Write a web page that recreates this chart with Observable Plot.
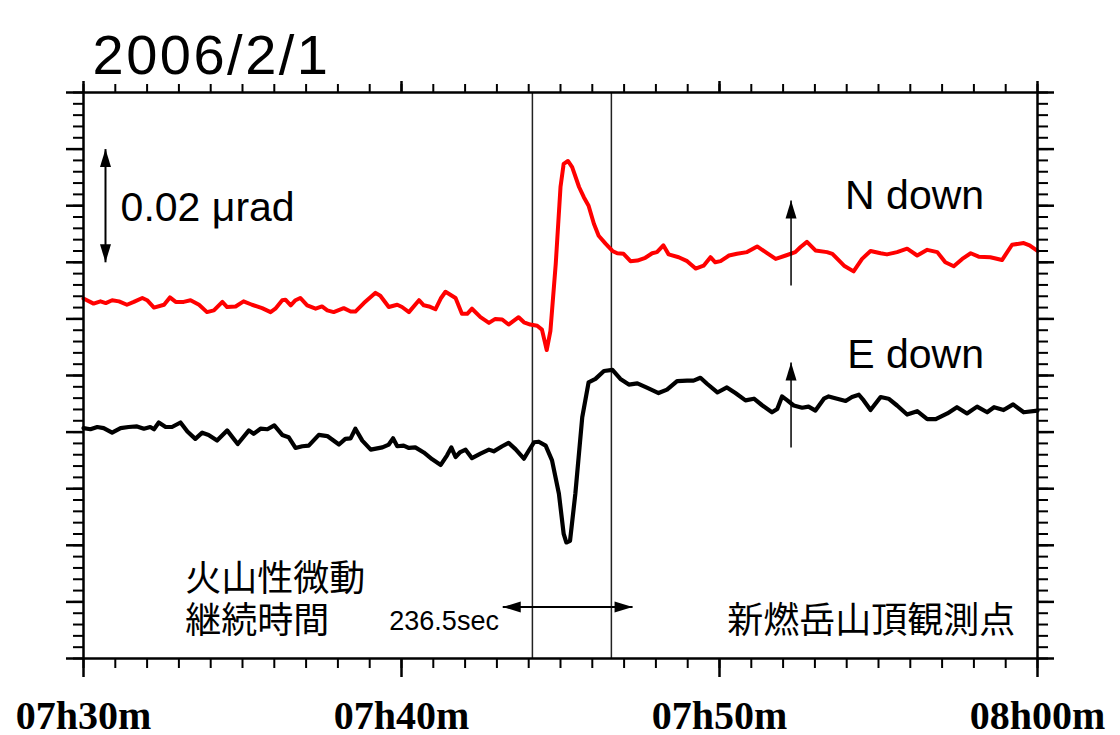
<!DOCTYPE html>
<html><head><meta charset="utf-8">
<script src="https://cdn.jsdelivr.net/npm/d3@7"></script>
<script src="https://cdn.jsdelivr.net/npm/@observablehq/plot@0.6"></script>
<style>
body{margin:0;background:#fff;}
#chart{width:1120px;height:735px;}
</style>
</head><body><div id="chart"></div>
<script>
// ---- data ----
const chartTitle = "2006/2/1";
// [seconds after 07:30:00, tilt in 0.001 µrad]
const nDown = [[0,63.6],[19,62.7],[32,63.1],[42,62.8],[54,63.3],[67,63.1],[82,62.5],[95,63.0],[111,63.7],[120,63.3],[133,62.0],[152,62.5],[163,63.8],[174,63.0],[189,63.0],[202,63.3],[218,62.5],[233,61.2],[246,61.5],[262,63.0],[271,62.1],[287,62.2],[302,63.1],[318,62.5],[337,61.9],[353,61.2],[362,61.8],[375,63.3],[381,63.4],[391,62.4],[400,63.3],[409,63.7],[422,62.4],[438,61.8],[450,62.2],[460,61.5],[472,61.2],[491,61.9],[504,61.3],[513,61.3],[529,62.8],[551,64.6],[560,64.1],[576,62.1],[592,62.5],[601,62.1],[614,61.2],[633,63.3],[642,62.4],[652,62.2],[664,61.7],[674,63.6],[683,64.8],[702,63.7],[714,60.9],[724,60.9],[733,61.8],[749,60.3],[765,59.3],[777,60.0],[790,59.9],[802,59.0],[821,60.3],[831,59.4],[843,59.0],[856,58.8],[865,58.1],[874,54.5],[881,57.9],[891,69.7],[900,83.3],[906,87.4],[914,87.9],[922,86.8],[935,83.3],[944,81.5],[953,80.0],[963,76.8],[972,74.7],[985,73.3],[998,72.0],[1007,71.6],[1019,71.5],[1032,70.2],[1045,70.3],[1060,70.8],[1073,71.6],[1082,71.8],[1094,73.0],[1104,71.4],[1123,70.9],[1139,70.2],[1155,68.9],[1170,69.4],[1183,70.9],[1192,70.0],[1202,70.2],[1218,71.2],[1233,71.5],[1252,71.8],[1271,72.8],[1287,71.8],[1306,70.6],[1325,71.2],[1343,71.8],[1353,72.7],[1365,73.6],[1381,72.1],[1403,71.8],[1413,71.5],[1435,69.4],[1453,68.4],[1469,70.6],[1485,72.0],[1504,71.6],[1516,71.4],[1535,71.8],[1554,72.4],[1573,71.2],[1592,72.2],[1611,71.8],[1626,70.0],[1642,69.3],[1658,70.6],[1674,71.6],[1689,71.0],[1711,70.9],[1733,70.4],[1752,73.1],[1774,73.4],[1785,73.0],[1800,72.0]];
const eDown = [[0,40.7],[13,40.5],[26,40.9],[38,40.7],[54,39.9],[70,40.7],[85,40.9],[101,41.0],[114,40.6],[126,40.9],[133,40.5],[142,41.7],[155,40.9],[167,40.9],[183,41.7],[196,40.1],[211,38.8],[224,39.9],[236,39.5],[252,38.5],[271,40.3],[291,37.9],[312,40.3],[321,39.7],[334,40.6],[347,40.5],[360,41.2],[375,39.5],[387,39.1],[400,37.2],[413,37.5],[425,37.6],[444,39.5],[460,39.3],[482,37.8],[494,38.8],[504,38.9],[513,40.6],[526,38.5],[542,36.9],[564,37.3],[576,37.8],[584,38.9],[592,37.5],[604,37.6],[614,37.2],[626,37.3],[642,36.4],[658,35.2],[674,34.2],[686,35.9],[694,37.3],[702,35.6],[710,36.4],[721,36.9],[733,35.4],[749,36.2],[765,36.9],[774,36.6],[790,37.5],[802,38.1],[815,37.0],[831,35.3],[840,36.7],[850,38.2],[859,38.3],[872,37.6],[884,35.0],[897,29.1],[906,22.0],[911,20.5],[918,20.8],[928,29.1],[941,42.6],[953,48.8],[966,49.4],[982,50.8],[998,51.0],[1013,49.4],[1029,48.4],[1045,48.6],[1064,47.8],[1085,46.9],[1101,47.5],[1120,49.0],[1139,49.1],[1151,49.1],[1164,49.6],[1177,48.5],[1196,47.0],[1214,47.9],[1230,46.9],[1249,45.6],[1265,45.9],[1281,44.7],[1299,43.5],[1309,44.1],[1318,46.3],[1328,45.6],[1340,44.7],[1356,44.3],[1368,44.5],[1381,43.8],[1397,45.9],[1406,46.3],[1422,45.9],[1438,45.5],[1450,46.2],[1463,46.6],[1472,45.6],[1485,43.9],[1504,46.2],[1519,45.9],[1535,44.7],[1554,43.1],[1573,43.7],[1592,42.3],[1608,42.3],[1630,43.3],[1648,44.4],[1667,43.3],[1686,44.5],[1705,43.5],[1718,44.4],[1736,43.9],[1754,44.9],[1774,43.5],[1800,43.8]];
const eventTimes = [847, 996];            // tremor start / end markers
const xTickValues = [0, 600, 1200, 1800];
const xTickLabels = ["07h30m", "07h40m", "07h50m", "08h00m"];
const xMinorTicks = d3.range(0, 1801, 60);
const yMinorTicks = d3.range(0, 101, 2);
const yMajorTicks = d3.range(0, 101, 10);

// annotations (data coordinates)
const scaleBar = {t: 41.5, from: 70, to: 90, label: "0.02 μrad", lt: 70, lv: 79.7};
const durationArrow = {v: 9.1, from: 791, to: 1036};
const dirArrows = [{t: 1335, from: 65.9, to: 80.9}, {t: 1335, from: 37.3, to: 52.3}];
const seriesLabels = [{t: 1437, v: 81.8, label: "N down"}, {t: 1441, v: 53.7, label: "E down"}];
const jpLeftLabels = [
  {t: 192, v: 14.0, label: "火山性微動"},
  {t: 192, v: 6.5, label: "継続時間"}
];
const jpRightLabels = [{t: 1758, v: 6.5, label: "新燃岳山頂観測点"}];
const durationLabel = {t: 577, v: 6.5, label: "236.5sec"};

// ---- drawing ----
const head = (len, wid) => ({draw(ctx) { ctx.moveTo(0, 0); ctx.lineTo(wid / 2, len); ctx.lineTo(-wid / 2, len); ctx.closePath(); }});
const heads = [
  {x: scaleBar.t, y: scaleBar.to, r: 0}, {x: scaleBar.t, y: scaleBar.from, r: 180},
  {x: durationArrow.from, y: durationArrow.v, r: -90}, {x: durationArrow.to, y: durationArrow.v, r: 90},
  ...dirArrows.map(a => ({x: a.t, y: a.to, r: 0}))
];
const sans = "'Liberation Sans', Arial, Helvetica, sans-serif";
const jp = "'Noto Sans CJK JP', sans-serif";
const fmtX = d => xTickLabels[xTickValues.indexOf(d)];

const chart = Plot.plot({
  width: 1120, height: 735,
  marginLeft: 83, marginRight: 83, marginTop: 92, marginBottom: 77,
  style: {background: "#fff", color: "#000", overflow: "visible"},
  x: {domain: [0, 1800], label: null},
  y: {domain: [0, 100], label: null},
  marks: [
    Plot.ruleX(eventTimes, {stroke: "#222", strokeWidth: 1.5}),
    Plot.line(nDown, {x: d => d[0], y: d => d[1], stroke: "#ff0000", strokeWidth: 4, strokeLinejoin: "round"}),
    Plot.line(eDown, {x: d => d[0], y: d => d[1], stroke: "#000", strokeWidth: 4.2, strokeLinejoin: "round"}),
    Plot.link([scaleBar], {x1: "t", x2: "t", y1: "from", y2: "to", stroke: "#000", strokeWidth: 2}),
    Plot.link([durationArrow], {x1: "from", x2: "to", y1: "v", y2: "v", stroke: "#000", strokeWidth: 2}),
    Plot.link(dirArrows, {x1: "t", x2: "t", y1: "from", y2: "to", stroke: "#000", strokeWidth: 1.5}),
    Plot.dot(heads, {x: "x", y: "y", rotate: "r", symbol: head(18, 11), fill: "#000", stroke: "none"}),
    Plot.text([chartTitle], {frameAnchor: "top-left", text: d => d, dx: 9, dy: -58, fontSize: 56, fontFamily: sans, textAnchor: "start", fill: "#000"}),
    Plot.text([scaleBar], {x: "lt", y: "lv", text: "label", fontSize: 41, fontFamily: sans, textAnchor: "start", fill: "#000"}),
    Plot.text(seriesLabels, {x: "t", y: "v", text: "label", fontSize: 41, fontFamily: sans, textAnchor: "start", fill: "#000"}),
    Plot.text(jpLeftLabels, {x: "t", y: "v", text: "label", textAnchor: "start", fontSize: 36, fontFamily: jp, fill: "#000"}),
    Plot.text(jpRightLabels, {x: "t", y: "v", text: "label", textAnchor: "end", fontSize: 36, fontFamily: jp, fill: "#000"}),
    Plot.text([durationLabel], {x: "t", y: "v", text: "label", fontSize: 27, fontFamily: sans, textAnchor: "start", fill: "#000"}),
    Plot.axisY(yMinorTicks, {anchor: "left", tickSize: 10, strokeWidth: 2, fill: "none", label: null}),
    Plot.axisY(yMajorTicks, {anchor: "left", tickSize: 17, strokeWidth: 2.5, fill: "none", label: null}),
    Plot.axisY(yMinorTicks, {anchor: "right", tickSize: 10, strokeWidth: 2, fill: "none", label: null}),
    Plot.axisY(yMajorTicks, {anchor: "right", tickSize: 16, strokeWidth: 2.5, fill: "none", label: null}),
    Plot.axisX(xMinorTicks, {anchor: "top", tickSize: 9, strokeWidth: 2, fill: "none", label: null}),
    Plot.axisX(xTickValues, {anchor: "top", tickSize: 12, strokeWidth: 2.5, fill: "none", label: null}),
    Plot.axisX(xMinorTicks, {anchor: "bottom", tickSize: 10, strokeWidth: 2, fill: "none", label: null}),
    Plot.axisX(xTickValues, {anchor: "bottom", tickSize: 19, tickPadding: 23, strokeWidth: 2.5, tickFormat: fmtX,
      fontSize: 40, fontWeight: "bold", fontFamily: "'Liberation Serif', 'Times New Roman', serif", fill: "#000", label: null}),
    Plot.frame({stroke: "#000", strokeWidth: 2.5})
  ]
});
// widen the title glyph spacing slightly to match the reference
for (const t of chart.querySelectorAll("text")) {
  if (t.textContent === chartTitle) t.style.letterSpacing = "2.5px";
}
document.getElementById("chart").append(chart);
</script>
</body></html>
